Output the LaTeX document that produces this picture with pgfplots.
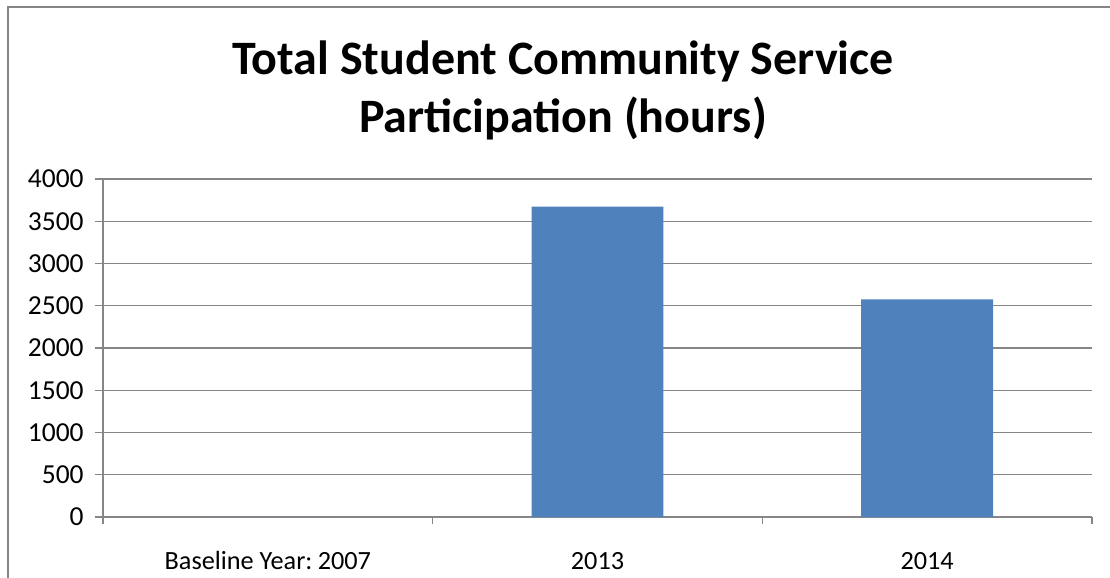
\documentclass[border=0pt]{standalone}
\usepackage{pgfplots}
\pgfplotsset{compat=1.18}
\usepackage{fontspec}
\setmainfont{Carlito}
\definecolor{barblue}{HTML}{4F81BD}
\definecolor{gridgray}{HTML}{868686}
\begin{document}
\begin{tikzpicture}[x=0.75pt,y=-0.75pt]
\useasboundingbox (0,0) rectangle (1110,578);
\coordinate (A) at (103,517);
\draw[gridgray, line width=1.5pt] (8,580) -- (8,7) -- (1112,7);
\node[font=\bfseries\fontsize{36}{42}\selectfont, anchor=base] at (563,74.5) {Total Student Community Service};
\node[font=\bfseries\fontsize{36}{42}\selectfont, anchor=base] at (563,132.5) {Participation (hours)};
\begin{axis}[
  at={(A)}, anchor=south west,
  scale only axis,
  width=741.75pt, height=253.5pt,
  xmin=-0.5, xmax=2.5,
  ymin=0, ymax=4000,
  ytick={0,500,...,4000},
  xtick={0,1,2},
  xticklabels={Baseline Year:\kern0.2em 2007, 2013, 2014},
  minor xtick={-0.5,0.5,1.5,2.5},
  axis x line*=bottom,
  axis y line*=left,
  axis line style={gridgray, line width=1.1pt, -},
  ymajorgrids,
  grid style={gridgray, line width=1.1pt},
  tick align=outside,
  major tick length=6pt,
  xtick style={draw=none},
  ytick style={gridgray, line width=1.1pt},
  minor tick length=5.5pt,
  minor x tick style={gridgray, line width=1.1pt, draw=gridgray},
  tick label style={font=\fontsize{19.7}{23}\selectfont},
  yticklabel style={font=\fontsize{20.6}{24}\selectfont, anchor=east, xshift=-5pt},
  /pgf/number format/assume math mode=true,
  /pgf/number format/1000 sep={},
  xticklabel style={anchor=base, yshift=-33pt},
  bar width=0.4,
]
\addplot[ybar, fill=barblue, draw=none] coordinates {(0,0) (1,3672) (2,2576)};
\end{axis}
\end{tikzpicture}
\end{document}
